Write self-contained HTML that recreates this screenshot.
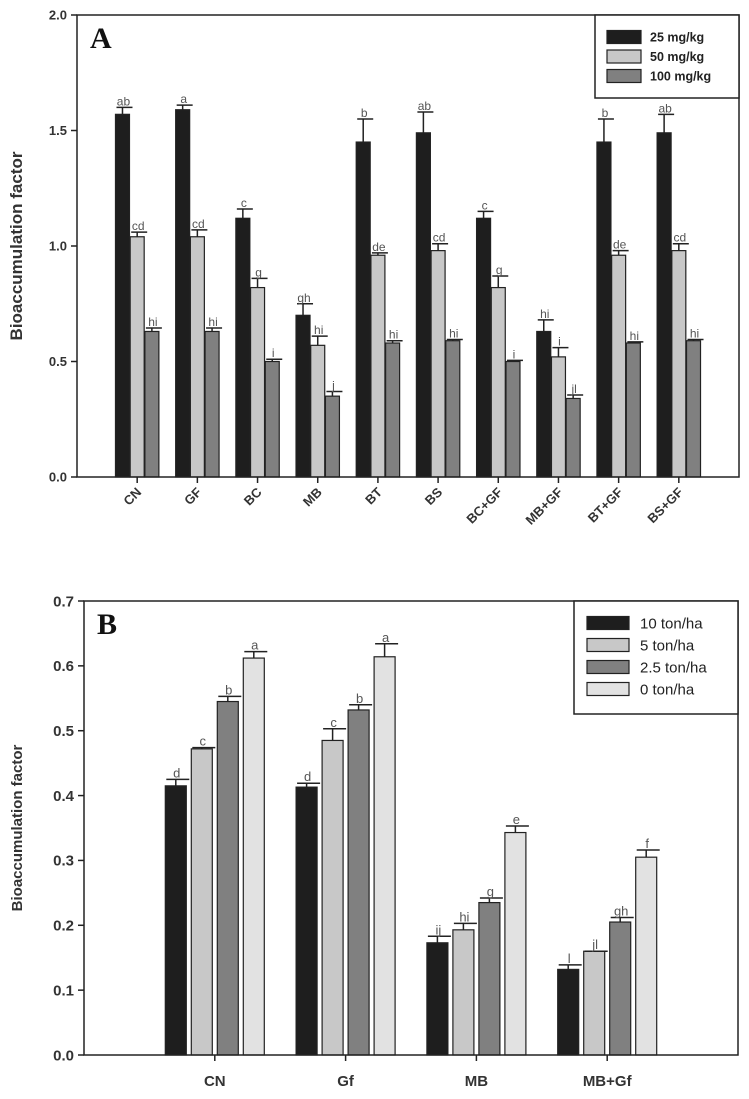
<!DOCTYPE html>
<html><head><meta charset="utf-8"><style>
body{margin:0;background:#fff;}
svg{display:block;font-family:"Liberation Sans",Arial,sans-serif;}
</style></head><body>
<svg id="c" width="749" height="1099" viewBox="0 0 749 1099" xmlns="http://www.w3.org/2000/svg"></svg>
<script>
// Panel A data
const catsA = ["CN","GF","BC","MB","BT","BS","BC+GF","MB+GF","BT+GF","BS+GF"];
const seriesA = ["25 mg/kg","50 mg/kg","100 mg/kg"];
const valsA25 = [1.57,1.59,1.12,0.70,1.45,1.49,1.12,0.63,1.45,1.49];
const valsA50 = [1.04,1.04,0.82,0.57,0.96,0.98,0.82,0.52,0.96,0.98];
const valsA100 = [0.63,0.63,0.50,0.35,0.58,0.59,0.50,0.34,0.58,0.59];
const errA25 = [0.03,0.02,0.04,0.05,0.10,0.09,0.03,0.05,0.10,0.08];
const errA50 = [0.02,0.03,0.04,0.04,0.01,0.03,0.05,0.04,0.02,0.03];
const errA100 = [0.015,0.015,0.01,0.02,0.01,0.005,0.005,0.015,0.005,0.005];
const letA25 = ["ab","a","c","gh","b","ab","c","hi","b","ab"];
const letA50 = ["cd","cd","g","hi","de","cd","g","i","de","cd"];
const letA100 = ["hi","hi","i","j","hi","hi","i","jl","hi","hi"];
const ticksA = ["0.0","0.5","1.0","1.5","2.0"];
// Panel B data
const catsB = ["CN","Gf","MB","MB+Gf"];
const seriesB = ["10 ton/ha","5 ton/ha","2.5 ton/ha","0 ton/ha"];
const valsB10 = [0.415,0.413,0.173,0.132];
const valsB5 = [0.472,0.485,0.193,0.160];
const valsB25 = [0.545,0.532,0.235,0.205];
const valsB0 = [0.612,0.614,0.343,0.305];
const errB10 = [0.010,0.006,0.010,0.007];
const errB5 = [0.002,0.018,0.010,0.000];
const errB25 = [0.008,0.008,0.007,0.007];
const errB0 = [0.010,0.020,0.010,0.011];
const letB10 = ["d","d","ij","l"];
const letB5 = ["c","c","hi","jl"];
const letB25 = ["b","b","g","gh"];
const letB0 = ["a","a","e","f"];
const ticksB = ["0.0","0.1","0.2","0.3","0.4","0.5","0.6","0.7"];

const svg=document.getElementById('c');
const NS="http://www.w3.org/2000/svg";
function mk(tag,attrs,parent,text){const e=document.createElementNS(NS,tag);for(const k in attrs)e.setAttribute(k,attrs[k]);if(text!==undefined)e.textContent=text;(parent||svg).appendChild(e);return e;}

function panel(o){
  const g=mk('g',{});
  
  
  const y=v=>o.y0-(v/o.ymax)*(o.y0-o.y1);
  const xc=i=>o.x0+(i+1)*(o.x1-o.x0)/(o.cats.length+1);
  o.vals.forEach((arr,s)=>{
    arr.forEach((v,i)=>{
      const n=o.vals.length;
      const bx=xc(i)+(s-(n-1)/2)*o.pitch-o.bw/2;
      const r=mk('rect',{x:bx,y:y(v),width:o.bw,height:o.y0-y(v),fill:o.colors[s],stroke:'#222','stroke-width':1.2},g);
      
      
      const cx=bx+o.bw/2, et=y(v+o.errs[s][i]);
      const e=mk('path',{d:`M${bx+o.bw/2} ${y(v)}V${et}M${bx+1} ${et}H${bx+o.bw+3}`,stroke:'#222','stroke-width':1.5,fill:'none'},g);
      
      
      const t=mk('text',{x:cx+1,y:et-2,'text-anchor':'middle','font-size':o.lfs,fill:'#555'},g,o.lets[s][i]);
      
      
    });
  });
  const f=mk('rect',{x:o.x0,y:o.y1,width:o.x1-o.x0,height:o.y0-o.y1,fill:'none',stroke:'#222','stroke-width':1.5},g);
  
  
  o.ticks.forEach((tl,k)=>{
    const v=k*o.ymax/(o.ticks.length-1), yy=y(v);
    mk('line',{x1:o.x0-6,x2:o.x0,y1:yy,y2:yy,stroke:'#222','stroke-width':1.5},g);
    const t=mk('text',{x:o.x0-10,y:yy+o.tfs*0.35,'text-anchor':'end','font-size':o.tfs,'font-weight':'bold',fill:'#333'},g,tl);
    
    
  });
  o.cats.forEach((c,i)=>{
    const x=xc(i);
    mk('line',{x1:x,x2:x,y1:o.y0,y2:o.y0+6,stroke:'#222','stroke-width':1.5},g);
    let t;
    if(o.rot){t=mk('text',{x:x+5,y:o.y0+16,'text-anchor':'end','font-size':13,'font-weight':'bold',fill:'#333',transform:`rotate(-45 ${x+5} ${o.y0+16})`},g,c);}
    else{t=mk('text',{x:x,y:o.y0+31,'text-anchor':'middle','font-size':15,'font-weight':'bold',fill:'#333'},g,c);}
    
    
  });
  const yt=mk('text',{x:0,y:0,'text-anchor':'middle','font-size':o.yfs,'font-weight':'bold',fill:'#333',transform:`translate(${o.ytx},${(o.y0+o.y1)/2}) rotate(-90)`},g,'Bioaccumulation factor');
  
  
  const pl=mk('text',{x:o.x0+13,y:o.y1+33,'font-size':30,'font-weight':'bold','font-family':'Liberation Serif,serif',fill:'#111'},g,o.label);
  
  
  const L=o.leg;
  const lb=mk('rect',{x:L.x,y:o.y1,width:o.x1-L.x,height:L.h,fill:'#fff',stroke:'#222','stroke-width':1.5},g);
  
  
  o.series.forEach((s,k)=>{
    const ry=L.r0+k*L.dr;
    mk('rect',{x:L.sx,y:ry-L.sh/2,width:L.sw,height:L.sh,fill:o.colors[k],stroke:'#222','stroke-width':1.2},g);
    const t=mk('text',{x:L.tx,y:ry+L.fs*0.36,'font-size':L.fs,'font-weight':L.fw,fill:'#222'},g,s);
    
    
  });
}

panel({name:'chart-a',label:'A',cats:catsA,series:seriesA,vals:[valsA25,valsA50,valsA100],errs:[errA25,errA50,errA100],lets:[letA25,letA50,letA100],
  colors:['#1e1e1e','#c8c8c8','#808080'],x0:77,x1:739,y0:477,y1:15,ymax:2.0,ticks:ticksA,bw:14,pitch:14.7,lfs:12,tfs:13,rot:true,ytx:22,yfs:17,
  leg:{x:595,h:83,r0:37,dr:19.5,sx:607,sw:34,sh:13,tx:650,fs:12.5,fw:'bold'}});
panel({name:'chart-b',label:'B',cats:catsB,series:seriesB,vals:[valsB10,valsB5,valsB25,valsB0],errs:[errB10,errB5,errB25,errB0],lets:[letB10,letB5,letB25,letB0],
  colors:['#1e1e1e','#c8c8c8','#808080','#e2e2e2'],x0:84,x1:738,y0:1055,y1:601,ymax:0.7,ticks:ticksB,bw:21,pitch:26,lfs:13,tfs:15,rot:false,ytx:22,yfs:15,
  leg:{x:574,h:113,r0:623,dr:22,sx:587,sw:42,sh:13,tx:640,fs:15,fw:'normal'}});
</script>
</body></html>
